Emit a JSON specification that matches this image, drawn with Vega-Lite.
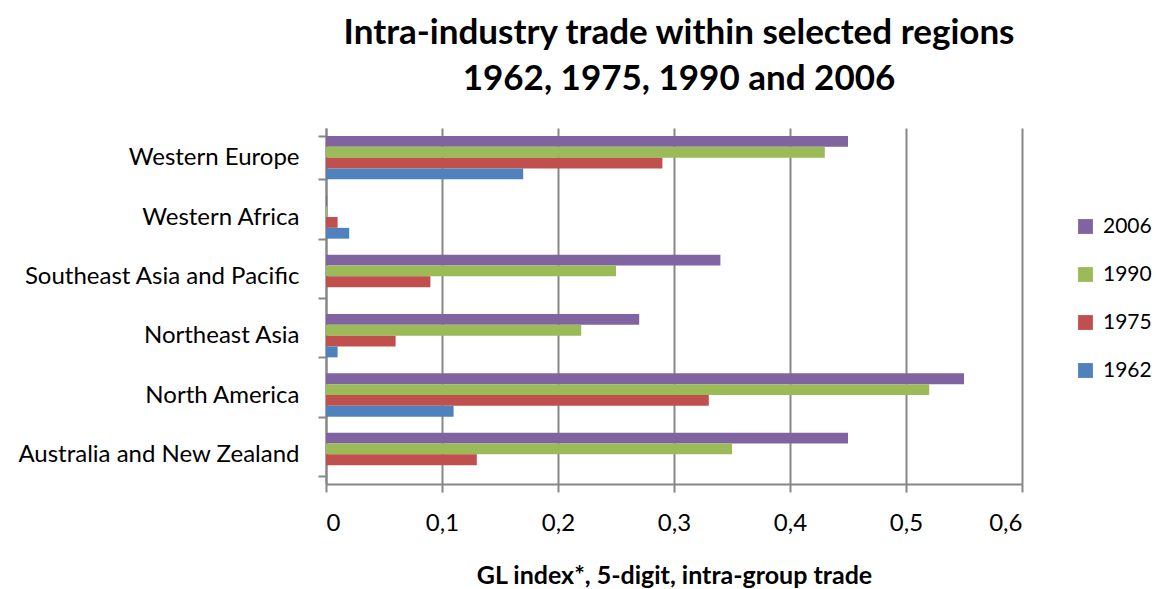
{
  "$schema": "https://vega.github.io/schema/vega-lite/v6.json",
  "autosize": "none",
  "width": 696,
  "height": 356,
  "padding": {"left": 326, "top": 128, "right": 135, "bottom": 105},
  "background": "white",
  "title": {
    "text": ["Intra-industry trade within selected regions", "1962, 1975, 1990 and 2006"],
    "font": "Lato",
    "fontSize": 35,
    "fontWeight": "bold",
    "color": "black",
    "lineHeight": 46,
    "offset": 19,
    "dx": 5,
    "anchor": "middle"
  },
  "data": {
    "values": [
      {"region": "Western Europe", "year": "2006", "value": 0.45},
      {"region": "Western Europe", "year": "1990", "value": 0.43},
      {"region": "Western Europe", "year": "1975", "value": 0.29},
      {"region": "Western Europe", "year": "1962", "value": 0.17},
      {"region": "Western Africa", "year": "2006", "value": 0.001},
      {"region": "Western Africa", "year": "1990", "value": 0.001},
      {"region": "Western Africa", "year": "1975", "value": 0.01},
      {"region": "Western Africa", "year": "1962", "value": 0.02},
      {"region": "Southeast Asia and Pacific", "year": "2006", "value": 0.34},
      {"region": "Southeast Asia and Pacific", "year": "1990", "value": 0.25},
      {"region": "Southeast Asia and Pacific", "year": "1975", "value": 0.09},
      {"region": "Southeast Asia and Pacific", "year": "1962", "value": 0},
      {"region": "Northeast Asia", "year": "2006", "value": 0.27},
      {"region": "Northeast Asia", "year": "1990", "value": 0.22},
      {"region": "Northeast Asia", "year": "1975", "value": 0.06},
      {"region": "Northeast Asia", "year": "1962", "value": 0.01},
      {"region": "North America", "year": "2006", "value": 0.55},
      {"region": "North America", "year": "1990", "value": 0.52},
      {"region": "North America", "year": "1975", "value": 0.33},
      {"region": "North America", "year": "1962", "value": 0.11},
      {"region": "Australia and New Zealand", "year": "2006", "value": 0.45},
      {"region": "Australia and New Zealand", "year": "1990", "value": 0.35},
      {"region": "Australia and New Zealand", "year": "1975", "value": 0.13},
      {"region": "Australia and New Zealand", "year": "1962", "value": 0}
    ]
  },
  "mark": {"type": "bar"},
  "encoding": {
    "y": {
      "field": "region",
      "type": "nominal",
      "sort": ["Western Europe", "Western Africa", "Southeast Asia and Pacific", "Northeast Asia", "North America", "Australia and New Zealand"],
      "scale": {"paddingInner": 0.27, "paddingOuter": 0.135},
      "axis": {
        "title": null,
        "labelFont": "Lato",
        "labelFontSize": 24,
        "labelColor": "black",
        "labelPadding": 19,
        "labelLimit": 0,
        "tickBand": "extent",
        "tickSize": 8,
        "tickColor": "#878787",
        "tickWidth": 2,
        "domainColor": "#878787",
        "domainWidth": 2,
        "grid": false
      }
    },
    "yOffset": {
      "field": "year",
      "type": "nominal",
      "sort": ["2006", "1990", "1975", "1962"],
      "scale": {"paddingInner": 0, "paddingOuter": 0}
    },
    "x": {
      "field": "value",
      "type": "quantitative",
      "scale": {"domain": [0, 0.6], "nice": false},
      "axis": {
        "title": "GL index*, 5-digit, intra-group trade",
        "titleFont": "Lato",
        "titleFontSize": 25,
        "titleFontWeight": "bold",
        "titleColor": "black",
        "titlePadding": 28,
        "values": [0, 0.1, 0.2, 0.3, 0.4, 0.5, 0.6],
        "labelExpr": "replace(format(datum.value, '.1~f'), '.', ',')",
        "labelFont": "Lato",
        "labelFontSize": 24,
        "labelColor": "black",
        "labelPadding": 19,
        "tickSize": 8,
        "tickColor": "#878787",
        "tickWidth": 2,
        "domainColor": "#878787",
        "domainWidth": 2,
        "grid": true,
        "gridColor": "#878787",
        "gridWidth": 2
      }
    },
    "color": {
      "field": "year",
      "type": "nominal",
      "sort": ["2006", "1990", "1975", "1962"],
      "scale": {"domain": ["2006", "1990", "1975", "1962"], "range": ["#8064A2", "#9BBB59", "#C0504D", "#4F81BD"]},
      "legend": {
        "title": null,
        "orient": "none",
        "legendX": 749,
        "legendY": 88,
        "symbolType": "square",
        "symbolSize": 220,
        "symbolStrokeWidth": 0,
        "labelFont": "Lato",
        "labelFontSize": 21,
        "labelColor": "black",
        "labelOffset": 7,
        "rowPadding": 26,
        "padding": 0
      }
    }
  },
  "config": {"view": {"stroke": null}}
}
